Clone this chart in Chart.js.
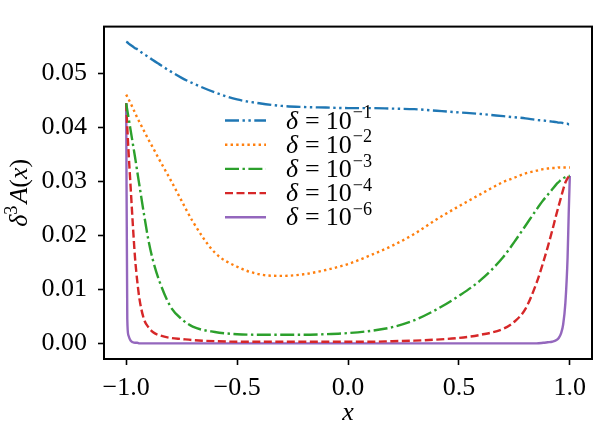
<!DOCTYPE html>
<html>
<head>
<meta charset="utf-8">
<script src="https://cdn.jsdelivr.net/npm/chart.js@4.4.1/dist/chart.umd.min.js"></script>
<style>
  html, body { margin: 0; padding: 0; background: #fff; }
  #chart { display: block; }
</style>
</head>
<body>
<canvas id="chart" width="595" height="435"></canvas>
<script>
// valores de x (malla más densa cerca de los bordes)
const xs = [-1, -0.995, -0.99, -0.98, -0.97, -0.96, -0.95, -0.94, -0.92, -0.9, -0.88, -0.85, -0.8, -0.75, -0.7,
    -0.6, -0.5, -0.4, -0.3, -0.2, -0.1, 0, 0.1, 0.2, 0.3, 0.4, 0.5, 0.6, 0.7, 0.75, 0.8, 0.85, 0.88, 0.9,
    0.92, 0.94, 0.95, 0.96, 0.97, 0.98, 0.99, 0.995, 1];

// delta = 1e-1
const serie1 = [0.0559, 0.0558, 0.0556, 0.0553, 0.0550, 0.0547, 0.0545, 0.0542, 0.0536, 0.0531, 0.0525, 0.0517, 0.0504, 0.0492, 0.0482,
    0.0465, 0.0452, 0.0445, 0.0440, 0.0438, 0.0437, 0.0436, 0.0436, 0.0435, 0.0434, 0.0431, 0.0428, 0.0425, 0.0421, 0.0419, 0.0417, 0.0414, 0.0413, 0.0412,
    0.0411, 0.0410, 0.0409, 0.0409, 0.0408, 0.0407, 0.0407, 0.0406, 0.0406];
// delta = 1e-2
const serie2 = [0.0461, 0.0457, 0.0453, 0.0445, 0.0436, 0.0427, 0.0418, 0.0410, 0.0394, 0.0378, 0.0363, 0.0340, 0.0303, 0.0264, 0.0226,
    0.0168, 0.0142, 0.0128, 0.0125, 0.0128, 0.0136, 0.0147, 0.0163, 0.0181, 0.0203, 0.0230, 0.0254, 0.0277, 0.0299, 0.0307, 0.0315, 0.0320, 0.0323, 0.0324,
    0.0325, 0.0325, 0.0326, 0.0326, 0.0326, 0.0326, 0.0326, 0.0326, 0.0326];
// delta = 1e-3
const serie3 = [0.0445, 0.0432, 0.0420, 0.0395, 0.0370, 0.0345, 0.0318, 0.0292, 0.0240, 0.0192, 0.0155, 0.0115, 0.0068, 0.0045, 0.0031,
    0.0021, 0.0017, 0.0016, 0.0016, 0.0016, 0.0017, 0.0019, 0.0023, 0.0030, 0.0043, 0.0063, 0.0088, 0.0118, 0.0160, 0.0188, 0.0218, 0.0248, 0.0265, 0.0275,
    0.0285, 0.0295, 0.0299, 0.0303, 0.0306, 0.0308, 0.0310, 0.0310, 0.0310];
// delta = 1e-4
const serie4 = [0.0445, 0.0400, 0.0360, 0.0290, 0.0220, 0.0158, 0.0115, 0.0082, 0.0045, 0.0030, 0.0021, 0.0015, 0.0010, 0.0008, 0.0006,
    0.0004, 0.0003, 0.0003, 0.0003, 0.0003, 0.0003, 0.0003, 0.0003, 0.0004, 0.0005, 0.0007, 0.0010, 0.0016, 0.0027, 0.0040, 0.0064, 0.0112, 0.0150, 0.0178,
    0.0208, 0.0240, 0.0255, 0.0270, 0.0285, 0.0298, 0.0306, 0.0309, 0.0310];
// delta = 1e-6
const serie6 = [0.0445, 0.0045, 0.0015, 0.0005, 0.0002, 0.0001, 0.0001, 0, 0, 0, 0, 0, 0, 0, 0,
    0, 0, 0, 0, 0, 0, 0, 0, 0, 0, 0, 0, 0, 0, 0, 0, 0, 0.0001, 0.0002,
    0.0003, 0.0006, 0.0010, 0.0018, 0.0035, 0.0075, 0.0160, 0.0240, 0.0310];

const xTicks = [-1, -0.5, 0, 0.5, 1];
const xTickLabels = ['\u22121.0', '\u22120.5', '0.0', '0.5', '1.0'];
const yTicks = [0, 0.01, 0.02, 0.03, 0.04, 0.05];
const yTickLabels = ['0.00', '0.01', '0.02', '0.03', '0.04', '0.05'];
const exponentes = ['\u22121', '\u22122', '\u22123', '\u22124', '\u22126'];

const FUENTE = '"Liberation Serif", "Times New Roman", serif';
const TAM = 26;

const series = [
    { datos: serie1, color: '#1f77b4', dash: [14, 3.5, 2.4, 3.5, 2.4, 3.5] },
    { datos: serie2, color: '#ff7f0e', dash: [2.4, 3.2] },
    { datos: serie3, color: '#2ca02c', dash: [14, 3.5, 2.4, 3.5] },
    { datos: serie4, color: '#d62728', dash: [8, 3.5] },
    { datos: serie6, color: '#9467bd', dash: [] }
];

// dibuja trozos de texto seguidos: [texto, italica?, superindice?, hueco antes]
function textoCompuesto(ctx, partes, x, y, medir) {
    let w = 0;
    partes.forEach(([t, ital, sup, hueco]) => {
        const tam = sup ? TAM * 0.7 : TAM;
        w += hueco || 0;
        ctx.font = (ital ? 'italic ' : '') + tam + 'px ' + FUENTE;
        if (!medir) ctx.fillText(t, x + w, sup ? y - TAM * 0.4 : y);
        w += ctx.measureText(t).width;
    });
    return w;
}

const extras = {
    id: 'extras',
    afterDraw(chart) {
        const ctx = chart.ctx;
        const a = chart.chartArea;
        ctx.save();
        // marco
        ctx.strokeStyle = '#000';
        ctx.lineWidth = 2;
        ctx.setLineDash([]);
        ctx.strokeRect(a.left, a.top, a.right - a.left, a.bottom - a.top);

        // leyenda
        const y0 = 120.5, paso = 24.2;
        series.forEach((s, i) => {
            const y = y0 + i * paso;
            ctx.strokeStyle = s.color;
            ctx.lineWidth = 2.4;
            ctx.setLineDash(s.dash);
            ctx.beginPath();
            ctx.moveTo(225, y);
            ctx.lineTo(266, y);
            ctx.stroke();
            ctx.setLineDash([]);
            ctx.fillStyle = '#000';
            ctx.textBaseline = 'alphabetic';
            ctx.textAlign = 'left';
            textoCompuesto(ctx, [['\u03b4', true], ['=', false, false, 7], ['10', false, false, 6], [exponentes[i], false, true, 1]], 286, y + 8);
        });

        // titulo eje x
        ctx.font = 'italic ' + TAM + 'px ' + FUENTE;
        ctx.textAlign = 'center';
        ctx.textBaseline = 'alphabetic';
        ctx.fillText('x', (a.left + a.right) / 2, 420);

        // titulo eje y
        const partesY = [['\u03b4', true], ['3', false, true], ['A', true, false, 2], ['(', false], ['x', true], [')', false]];
        ctx.textAlign = 'left';
        const ancho = textoCompuesto(ctx, partesY, 0, 0, true);
        ctx.translate(27, (a.top + a.bottom) / 2);
        ctx.rotate(-Math.PI / 2);
        textoCompuesto(ctx, partesY, -ancho / 2, 0);
        ctx.restore();
    }
};

new Chart(document.getElementById('chart'), {
    type: 'line',
    data: {
        datasets: series.map(s => ({
            data: xs.map((x, i) => ({ x: x, y: s.datos[i] })),
            borderColor: s.color,
            borderDash: s.dash,
            borderWidth: 2.4,
            borderCapStyle: 'butt',
            pointRadius: 0,
            fill: false,
            cubicInterpolationMode: 'monotone'
        }))
    },
    options: {
        responsive: false,
        animation: false,
        devicePixelRatio: 1,
        layout: { padding: { left: 0, top: 2, right: 3, bottom: 0 } },
        plugins: { legend: { display: false }, tooltip: { enabled: false } },
        scales: {
            x: {
                type: 'linear',
                min: -1.1,
                max: 1.1,
                afterBuildTicks: axis => { axis.ticks = xTicks.map(v => ({ value: v })); },
                afterFit: scale => { scale.height = 76; },
                ticks: {
                    color: '#000',
                    font: { family: FUENTE, size: TAM },
                    padding: 8,
                    maxRotation: 0,
                    callback: v => xTickLabels[xTicks.indexOf(v)]
                },
                grid: { drawOnChartArea: false, drawTicks: true, tickLength: 6, tickWidth: 1.6, tickColor: '#000' },
                border: { display: false }
            },
            y: {
                min: -0.0029,
                max: 0.0587,
                afterBuildTicks: axis => { axis.ticks = yTicks.map(v => ({ value: v })); },
                afterFit: scale => { scale.width = 104; },
                ticks: {
                    color: '#000',
                    font: { family: FUENTE, size: TAM },
                    padding: 11,
                    callback: v => yTickLabels[yTicks.indexOf(v)]
                },
                grid: { drawOnChartArea: false, drawTicks: true, tickLength: 6, tickWidth: 1.6, tickColor: '#000' },
                border: { display: false }
            }
        }
    },
    plugins: [extras]
});
</script>
</body>
</html>
